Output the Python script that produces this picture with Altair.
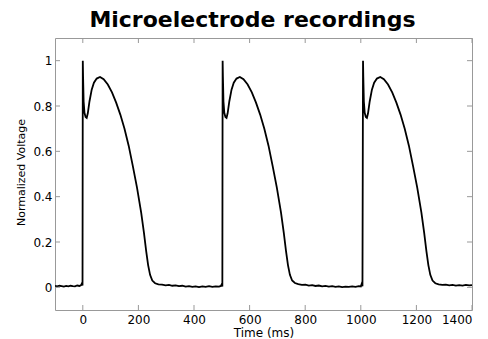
import altair as alt
import pandas as pd

# ---- data ----
base0_t = [-100, -92, -84, -76, -68, -60, -52, -44, -36, -28, -20, -12, -6, -3, -1]
base0_v = [0.006, 0.004, 0.007, 0.005, 0.003, 0.006, 0.004, 0.007, 0.005, 0.004, 0.008, 0.006, 0.010, 0.018, 0.008]

beat1_t = [0, 1, 3, 6, 10, 14, 18, 24, 32, 40, 50, 62, 75, 90, 105, 120, 135, 150, 165, 180,
           195, 210, 220, 228, 235, 242, 250, 260, 272, 285, 298, 310, 322, 334, 346, 358, 370, 382, 394, 406,
           418, 430, 442, 454, 466, 478, 490, 497, 500, 502]
beat1_v = [1.0, 0.93, 0.82, 0.77, 0.752, 0.748, 0.768, 0.82, 0.872, 0.903, 0.921, 0.928, 0.918, 0.895, 0.86, 0.815, 0.762, 0.70, 0.625, 0.535,
           0.44, 0.33, 0.24, 0.16, 0.098, 0.055, 0.03, 0.018, 0.013, 0.012, 0.009, 0.011, 0.007, 0.009, 0.005, 0.007, 0.003, 0.005, 0.002, 0.004,
           0.001, 0.004, 0.002, 0.005, 0.002, 0.004, 0.003, 0.006, 0.014, 0.004]

beat2_t = [503, 504, 506, 509, 513, 517, 521, 527, 535, 543, 553, 565, 578, 593, 608, 623, 638, 653, 668, 683,
           698, 713, 723, 731, 738, 745, 753, 763, 775, 788, 801, 813, 825, 837, 849, 861, 873, 885, 897, 909,
           921, 933, 945, 957, 969, 981, 993, 1000, 1003, 1006]
beat2_v = [1.0, 0.93, 0.82, 0.77, 0.752, 0.748, 0.768, 0.82, 0.872, 0.903, 0.921, 0.928, 0.918, 0.895, 0.86, 0.815, 0.762, 0.70, 0.625, 0.535,
           0.44, 0.33, 0.24, 0.16, 0.098, 0.055, 0.03, 0.019, 0.014, 0.011, 0.012, 0.008, 0.010, 0.006, 0.008, 0.004, 0.006, 0.003, 0.005, 0.002,
           0.004, 0.001, 0.003, 0.002, 0.004, 0.002, 0.005, 0.004, 0.015, 0.005]

beat3_t = [1008, 1009, 1011, 1014, 1018, 1022, 1026, 1032, 1040, 1048, 1058, 1070, 1083, 1098, 1113, 1128, 1143, 1158, 1173, 1188,
           1203, 1218, 1228, 1236, 1243, 1250, 1258, 1268, 1280, 1293, 1306, 1318, 1330, 1342, 1354, 1366, 1378, 1390, 1400]
beat3_v = [1.0, 0.93, 0.82, 0.77, 0.752, 0.748, 0.768, 0.82, 0.872, 0.903, 0.921, 0.928, 0.918, 0.895, 0.86, 0.815, 0.762, 0.70, 0.625, 0.535,
           0.44, 0.33, 0.24, 0.16, 0.098, 0.055, 0.03, 0.018, 0.013, 0.011, 0.012, 0.009, 0.011, 0.008, 0.010, 0.008, 0.011, 0.009, 0.01]

x_ticks = [0, 200, 400, 600, 800, 1000, 1200, 1400]
y_ticks = [0, 0.2, 0.4, 0.6, 0.8, 1.0]

title_text = "Microelectrode recordings"
x_title = "Time (ms)"
y_title = "Normalized Voltage"

# ---- build ----
df = pd.DataFrame({
    "t": base0_t + beat1_t + beat2_t + beat3_t,
    "v": base0_v + beat1_v + beat2_v + beat3_v,
})
df["i"] = range(len(df))

W, H = 417, 272
FONT = "DejaVu Sans"
TICK_COLOR = "#999999"

xscale = alt.Scale(domain=[-100, 1400], nice=False, zero=False)
yscale = alt.Scale(domain=[-0.1, 1.1], nice=False, zero=False)

line = alt.Chart(df).mark_line(color="black", strokeWidth=1.8, clip=True).encode(
    x=alt.X("t:Q", scale=xscale,
            axis=alt.Axis(values=x_ticks, format="d", title=x_title,
                          labelPadding=4, titlePadding=2, ticks=False, domain=False,
                          grid=False, labelFont=FONT, labelFontSize=12, labelColor="black",
                          titleFont=FONT, titleFontSize=12, titleColor="black",
                          titleFontWeight="normal")),
    y=alt.Y("v:Q", scale=yscale,
            axis=alt.Axis(values=y_ticks, format="~g", title=y_title,
                          labelPadding=3, titleX=-31, titleY=H / 2 - 2,
                          titleBaseline="alphabetic", titleFontSize=11,
                          ticks=False, domain=False, grid=False,
                          labelFont=FONT, labelFontSize=12, labelColor="black",
                          titleFont=FONT, titleColor="black", titleFontWeight="normal")),
    order="i:Q",
)

xt = pd.DataFrame({"x": x_ticks})
yt = pd.DataFrame({"y": y_ticks})

xb = alt.Chart(xt).mark_rule(color=TICK_COLOR, strokeWidth=1).encode(
    x=alt.X("x:Q", scale=xscale, title=x_title), y=alt.value(H), y2=alt.value(H - 5))
xtop = alt.Chart(xt).mark_rule(color=TICK_COLOR, strokeWidth=1).encode(
    x=alt.X("x:Q", scale=xscale, title=x_title), y=alt.value(0), y2=alt.value(5))
yl = alt.Chart(yt).mark_rule(color=TICK_COLOR, strokeWidth=1).encode(
    y=alt.Y("y:Q", scale=yscale, title=y_title), x=alt.value(0), x2=alt.value(5))
yr = alt.Chart(yt).mark_rule(color=TICK_COLOR, strokeWidth=1).encode(
    y=alt.Y("y:Q", scale=yscale, title=y_title), x=alt.value(W - 5), x2=alt.value(W))

chart = alt.layer(line, xb, xtop, yl, yr).properties(
    width=W, height=H,
    background="white",
    title=alt.TitleParams(title_text, font=FONT, fontSize=22, fontWeight="bold",
                          color="black", anchor="middle", dx=-11, offset=6),
    autosize=alt.AutoSizeParams(type="none"),
    padding={"left": 55, "top": 38, "right": 16, "bottom": 29},
).configure_view(
    stroke=TICK_COLOR, strokeWidth=1
)

chart.save("out.html", embed_options={"renderer": "svg", "actions": False})
